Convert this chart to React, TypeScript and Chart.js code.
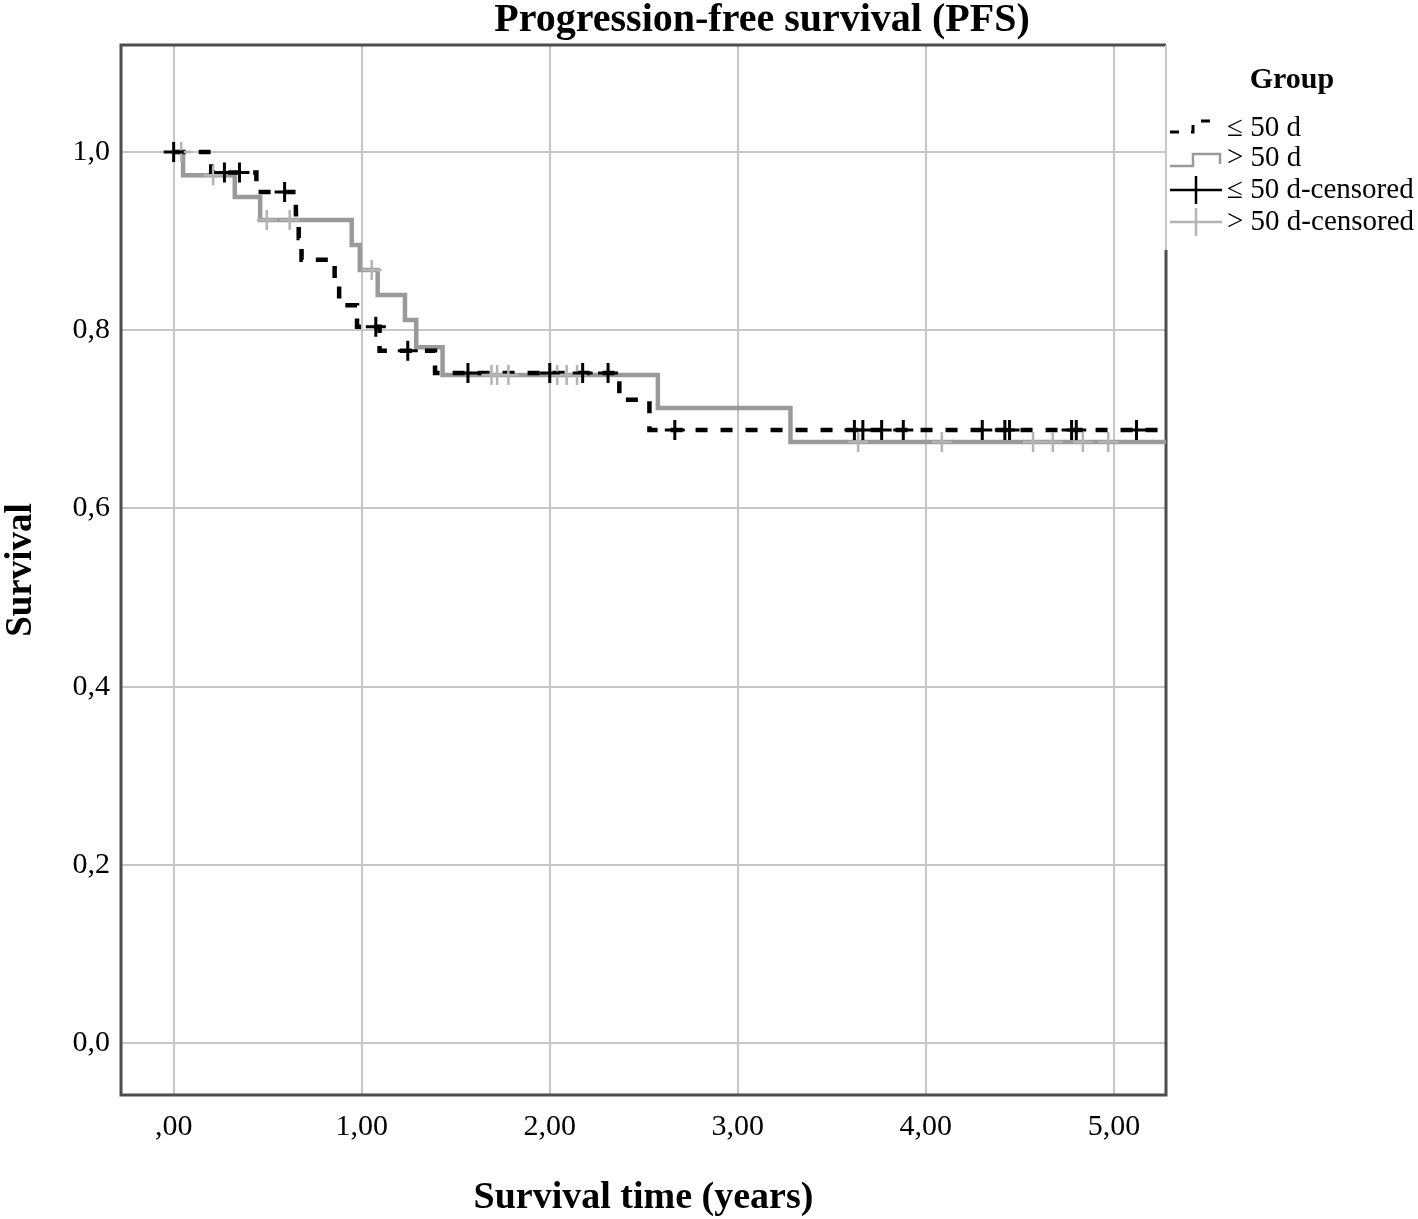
import React, { useEffect, useRef } from 'react';
import { Chart, registerables } from 'chart.js';

Chart.register(...registerables);

// ---- Data ----
const xTickValues = [0, 1, 2, 3, 4, 5];
const xTickLabels = [',00', '1,00', '2,00', '3,00', '4,00', '5,00'];
const yTickValues = [0, 0.2, 0.4, 0.6, 0.8, 1.0];
const yTickLabels = ['0,0', '0,2', '0,4', '0,6', '0,8', '1,0'];

// "≤ 50 d" Kaplan-Meier steps (time in years, survival after the step)
const shortTimes = [0, 0.2, 0.44, 0.65, 0.665, 0.68, 0.856, 0.88, 0.975, 1.095, 1.39, 2.37, 2.53, 5.28];
const shortSurv = [1.0, 0.977, 0.955, 0.93, 0.9035, 0.879, 0.853, 0.828, 0.804, 0.777, 0.752, 0.722, 0.688, 0.688];

// "> 50 d" Kaplan-Meier steps
const longTimes = [0, 0.05, 0.325, 0.46, 0.947, 0.99, 1.085, 1.23, 1.29, 1.43, 2.575, 3.28, 5.28];
const longSurv = [1.0, 0.974, 0.9495, 0.9237, 0.8956, 0.8676, 0.8395, 0.8114, 0.781, 0.7497, 0.7127, 0.6745, 0.6745];

// censored marks
const shortCensTimes = [0.0, 0.27, 0.35, 0.59, 1.075, 1.245, 1.565, 2.0, 2.175, 2.31, 2.665, 3.62, 3.665, 3.765, 3.88, 4.3, 4.42, 4.445, 4.775, 4.8, 5.12];
const shortCensSurv = [1.0, 0.977, 0.977, 0.955, 0.804, 0.777, 0.752, 0.752, 0.752, 0.752, 0.688, 0.688, 0.688, 0.688, 0.688, 0.688, 0.688, 0.688, 0.688, 0.688, 0.688];
const longCensTimes = [0.04, 0.21, 0.495, 0.617, 1.053, 1.69, 1.72, 1.78, 2.04, 2.09, 2.145, 3.64, 4.085, 4.57, 4.675, 4.835, 4.97];
const longCensSurv = [1.0, 0.974, 0.9237, 0.9237, 0.8676, 0.7497, 0.7497, 0.7497, 0.7497, 0.7497, 0.7497, 0.6745, 0.6745, 0.6745, 0.6745, 0.6745, 0.6745];

const titleText = 'Progression-free survival (PFS)';
const xTitle = 'Survival time (years)';
const yTitle = 'Survival';
const legendTitle = 'Group';
const legendLabels = ['≤ 50 d', '> 50 d', '≤ 50 d-censored', '> 50 d-censored'];

const BLACK = '#000000';
const GRAY = '#9a9a9a';
const GRAY_CENS = '#b4b4b4';
const GRID = '#c6c6c6';
const FRAME = '#4d4d4d';
const SERIF = '"Liberation Serif", "Times New Roman", serif';

const toPts = (xs: number[], ys: number[]) => xs.map((x, i) => ({ x, y: ys[i] }));

const decorPlugin = {
  id: 'decor',
  beforeDatasetsDraw(chart: any) {
    const { ctx, chartArea: a } = chart;
    ctx.save();
    ctx.lineWidth = 3;
    ctx.strokeStyle = FRAME;
    ctx.beginPath();
    ctx.moveTo(a.right, 250);
    ctx.lineTo(a.right, a.bottom);
    ctx.lineTo(a.left, a.bottom);
    ctx.lineTo(a.left, a.top);
    ctx.lineTo(a.right, a.top);
    ctx.stroke();
    ctx.strokeStyle = GRID;
    ctx.lineWidth = 2;
    ctx.beginPath();
    ctx.moveTo(a.right, a.top);
    ctx.lineTo(a.right, 250);
    ctx.stroke();
    ctx.restore();
  },
  afterDraw(chart: any) {
    const { ctx, chartArea: a } = chart;
    ctx.save();
    ctx.fillStyle = '#000';
    // title
    ctx.font = `bold 40px ${SERIF}`;
    ctx.textAlign = 'center';
    ctx.textBaseline = 'alphabetic';
    ctx.fillText(titleText, 762, 31);
    // x title
    ctx.font = `bold 38px ${SERIF}`;
    ctx.fillText(xTitle, (a.left + a.right) / 2, 1208);
    // y title
    ctx.save();
    ctx.translate(31, (a.top + a.bottom) / 2);
    ctx.rotate(-Math.PI / 2);
    ctx.font = `bold 37px ${SERIF}`;
    ctx.fillText(yTitle, 0, 0);
    ctx.restore();

    // legend
    ctx.font = `bold 30px ${SERIF}`;
    ctx.textBaseline = 'middle';
    ctx.fillText(legendTitle, 1292, 80);
    ctx.textAlign = 'left';
    ctx.font = `29px ${SERIF}`;
    const rows = [128, 158, 190, 222];
    legendLabels.forEach((t, i) => ctx.fillText(t, 1227, rows[i]));

    // symbols
    ctx.lineCap = 'butt';
    // row 1: dashed step
    ctx.strokeStyle = BLACK;
    ctx.lineWidth = 3;
    ctx.setLineDash([9, 12]);
    ctx.beginPath();
    ctx.moveTo(1170, 132);
    ctx.lineTo(1193, 132);
    ctx.lineTo(1193, 121);
    ctx.lineTo(1222, 121);
    ctx.stroke();
    ctx.setLineDash([]);
    // row 2: gray step
    ctx.strokeStyle = GRAY;
    ctx.lineWidth = 2.5;
    ctx.beginPath();
    ctx.moveTo(1170, 166);
    ctx.lineTo(1193, 166);
    ctx.lineTo(1193, 154);
    ctx.lineTo(1220, 154);
    ctx.lineTo(1220, 164);
    ctx.stroke();
    // row 3: black cross
    ctx.strokeStyle = BLACK;
    ctx.lineWidth = 2.5;
    ctx.beginPath();
    ctx.moveTo(1170, 190);
    ctx.lineTo(1222, 190);
    ctx.moveTo(1196, 176);
    ctx.lineTo(1196, 204);
    ctx.stroke();
    // row 4: gray cross
    ctx.strokeStyle = GRAY_CENS;
    ctx.beginPath();
    ctx.moveTo(1170, 222);
    ctx.lineTo(1222, 222);
    ctx.moveTo(1196, 208);
    ctx.lineTo(1196, 236);
    ctx.stroke();
    ctx.restore();
  },
};

export default function App() {
  const ref = useRef<HTMLCanvasElement | null>(null);

  useEffect(() => {
    document.body.style.margin = '0';
    if (!ref.current) return;
    const chart = new Chart(ref.current, {
      type: 'scatter',
      data: {
        datasets: [
          {
            label: '≤ 50 d-censored',
            data: toPts(shortCensTimes, shortCensSurv),
            showLine: false,
            pointStyle: 'cross',
            pointRadius: 10,
            pointBorderWidth: 3,
            borderColor: BLACK,
            backgroundColor: BLACK,
          },
          {
            label: '> 50 d-censored',
            data: toPts(longCensTimes, longCensSurv),
            showLine: false,
            pointStyle: 'cross',
            pointRadius: 10,
            pointBorderWidth: 2.5,
            borderColor: GRAY_CENS,
            backgroundColor: GRAY_CENS,
          },
          {
            label: '≤ 50 d',
            data: toPts(shortTimes, shortSurv),
            showLine: true,
            stepped: 'before',
            borderColor: BLACK,
            borderWidth: 4.5,
            borderDash: [12, 13],
            pointRadius: 0,
            fill: false,
          },
          {
            label: '> 50 d',
            data: toPts(longTimes, longSurv),
            showLine: true,
            stepped: 'before',
            borderColor: GRAY,
            borderWidth: 4.5,
            pointRadius: 0,
            fill: false,
          },
        ],
      },
      options: {
        responsive: false,
        animation: false,
        events: [],
        layout: { padding: { left: 0, right: 252, top: 45, bottom: 0 } },
        plugins: {
          legend: { display: false },
          tooltip: { enabled: false },
          title: { display: false },
        },
        scales: {
          x: {
            type: 'linear',
            min: -0.28,
            max: 5.277,
            afterBuildTicks: (axis: any) => {
              axis.ticks = xTickValues.map((v) => ({ value: v }));
            },
            afterFit: (axis: any) => {
              axis.height = 124;
            },
            grid: { color: GRID, lineWidth: 2, drawTicks: false },
            border: { display: false },
            ticks: {
              padding: 14,
              color: '#000',
              font: { family: SERIF, size: 30 },
              maxRotation: 0,
              autoSkip: false,
              callback: (v: any) => {
                const i = xTickValues.indexOf(Number(v));
                return i >= 0 ? xTickLabels[i] : '';
              },
            },
          },
          y: {
            type: 'linear',
            min: -0.058,
            max: 1.12,
            afterBuildTicks: (axis: any) => {
              axis.ticks = yTickValues.map((v) => ({ value: v }));
            },
            afterFit: (axis: any) => {
              axis.width = 121;
            },
            grid: { color: GRID, lineWidth: 2, drawTicks: false },
            border: { display: false },
            ticks: {
              padding: 11,
              color: '#000',
              font: { family: SERIF, size: 30 },
              autoSkip: false,
              callback: (v: any) => {
                const i = yTickValues.findIndex((t) => Math.abs(t - Number(v)) < 1e-9);
                return i >= 0 ? yTickLabels[i] : '';
              },
            },
          },
        },
      },
      plugins: [decorPlugin],
    } as any);
    return () => chart.destroy();
  }, []);

  return (
    <div style={{ width: 1418, height: 1219 }}>
      <canvas ref={ref} width={1418} height={1219} style={{ display: 'block' }} />
    </div>
  );
}
